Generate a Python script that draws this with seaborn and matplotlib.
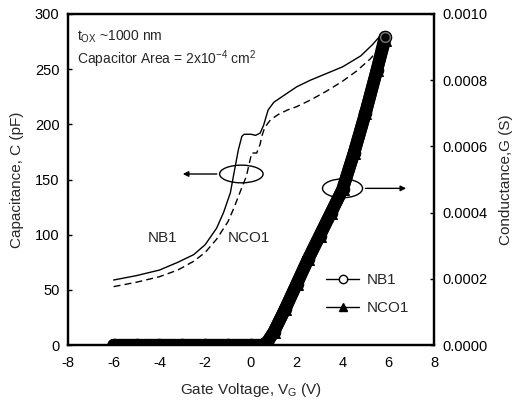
import matplotlib
matplotlib.use('Agg')
import matplotlib.pyplot as plt
import seaborn as sns
import pandas as pd
from matplotlib.lines import Line2D
from matplotlib.patches import Ellipse
from matplotlib.ticker import FormatStrFormatter

# capacitance curves (pF)
v_nb1 = [-6, -5, -4, -3.2, -2.5, -2.0, -1.5, -1.2, -0.9, -0.75, -0.55, -0.4, -0.3, 0.0, 0.2,
         0.4, 0.55, 0.75, 1.0, 1.5, 2.0, 2.6, 3.3, 4.0, 4.8, 5.3, 5.6, 5.85]
c_nb1 = [59, 63, 68, 75, 82, 91, 106, 120, 138, 155, 177, 189, 191, 191, 190,
         192, 199, 213, 220, 227, 234, 240, 246, 252, 262, 272, 279, 283]

v_nco1 = [-6, -5, -4, -3.2, -2.5, -2.0, -1.5, -1.0, -0.75, -0.45, -0.2, 0.03, 0.25, 0.4,
          0.47, 0.6, 0.85, 1.2, 1.6, 2.0, 2.6, 3.3, 4.0, 4.6, 5.2, 5.5, 5.75]
c_nco1 = [53, 57, 62, 68, 76, 84, 96, 112, 124, 140, 153, 174, 174, 182,
          189, 197, 204, 209, 213, 216, 222, 230, 239, 248, 259, 266, 276]

# conductance (S)
v_g = [-6, -5, -4, -3, -2, -1, 0, 0.5, 0.7, 1.0, 1.5, 2.0, 2.5, 3.0, 3.5, 4.0, 4.5, 5.0, 5.5, 5.85]
g_nb1 = [0, 0, 0, 0, 0, 0, 0, 0, 0.000008, 0.00004, 0.00011, 0.000185, 0.00026, 0.00033,
         0.0004, 0.00047, 0.00058, 0.0007, 0.00083, 0.00093]
g_nco1 = [0, 0, 0, 0, 0, 0, 0, 0, 0.000008, 0.00004, 0.00011, 0.000185, 0.00026, 0.00033,
          0.0004, 0.00047, 0.00058, 0.0007, 0.00083, 0.00092]

sns.set_style('white')
plt.rcParams['font.family'] = ['Liberation Sans', 'DejaVu Sans']
plt.rcParams['mathtext.fontset'] = 'custom'
plt.rcParams['mathtext.rm'] = 'Liberation Sans'
plt.rcParams['mathtext.it'] = 'Liberation Sans'
plt.rcParams['axes.unicode_minus'] = False

fig = plt.figure(figsize=(5.18, 4.08), dpi=100)
ax = fig.add_axes([0.131, 0.154, 0.707, 0.812])
ax2 = ax.twinx()

df_c1 = pd.DataFrame({'V': v_nb1, 'C': c_nb1})
df_c2 = pd.DataFrame({'V': v_nco1, 'C': c_nco1})
sns.lineplot(data=df_c1, x='V', y='C', ax=ax, color='black', lw=1.0, sort=False, estimator=None)
sns.lineplot(data=df_c2, x='V', y='C', ax=ax, color='black', lw=1.0, sort=False, estimator=None,
             dashes=False, linestyle=(0, (5, 3)))

df_g = pd.DataFrame({'V': v_g, 'NB1': g_nb1, 'NCO1': g_nco1})
sns.lineplot(data=df_g, x='V', y='NB1', ax=ax2, color='black', lw=9, marker='o', ms=9,
             mfc='black', mec='black', solid_capstyle='round', sort=False, estimator=None)
sns.lineplot(data=df_g, x='V', y='NCO1', ax=ax2, color='black', lw=9, marker='^', ms=9,
             mfc='black', mec='black', solid_capstyle='round', sort=False, estimator=None)
ax2.plot([v_g[-1]], [g_nb1[-1]], marker='o', ms=7, mfc='none', mec='#777777', mew=1)

ax.set_xlim(-8, 8)
ax.set_ylim(0, 300)
ax2.set_ylim(0, 0.001)
ax.set_xticks(range(-8, 9, 2))
ax.set_yticks(range(0, 301, 50))
ax2.set_yticks([0, 0.0002, 0.0004, 0.0006, 0.0008, 0.001])
ax2.yaxis.set_major_formatter(FormatStrFormatter('%.4f'))

for a in (ax, ax2):
    for s in a.spines.values():
        s.set_linewidth(1.6)
        s.set_color('black')
    a.tick_params(direction='in', length=3, width=1, labelsize=10.5, colors='black')
ax.tick_params(axis='x', pad=8)
ax.tick_params(axis='y', pad=6)
ax2.tick_params(axis='y', pad=6)

ax.set_xlabel('Gate Voltage, V$_\\mathrm{G}$ (V)', fontsize=11, labelpad=8)
ax.set_ylabel('Capacitance, C (pF)', fontsize=11, labelpad=8)
ax2.set_ylabel('Conductance,G (S)', fontsize=11, labelpad=8)

ax.text(-7.6, 276, 't$_\\mathrm{OX}$ ~1000 nm', fontsize=10)
ax.text(-7.6, 255, 'Capacitor Area = 2x10$^{\\mathrm{-4}}$ cm$^\\mathrm{2}$', fontsize=10)
ax.text(-3.85, 97, 'NB1', fontsize=11, ha='center', va='center')
ax.text(-0.1, 97, 'NCO1', fontsize=11, ha='center', va='center')

# ellipses with arrows pointing to their axes
ax.add_patch(Ellipse((-0.42, 155), 1.9, 16, fill=False, color='black', lw=1))
ax.annotate('', xy=(-3.1, 155), xytext=(-1.37, 155),
            arrowprops=dict(arrowstyle='-|>', color='black', lw=1, mutation_scale=8))
ax.add_patch(Ellipse((4.0, 142), 1.75, 17, fill=False, color='black', lw=1))
ax.annotate('', xy=(6.9, 142), xytext=(4.88, 142),
            arrowprops=dict(arrowstyle='-|>', color='black', lw=1, mutation_scale=8))

handles = [Line2D([], [], color='black', lw=1, marker='o', mfc='white', mec='black', ms=6),
           Line2D([], [], color='black', lw=1, marker='^', mfc='black', mec='black', ms=6)]
ax2.legend(handles, ['NB1', 'NCO1'], loc='lower right', bbox_to_anchor=(0.97, 0.05),
           frameon=False, fontsize=11, handlelength=2.2, handletextpad=0.5, labelspacing=0.9)

fig.savefig('out.png', dpi=100)
